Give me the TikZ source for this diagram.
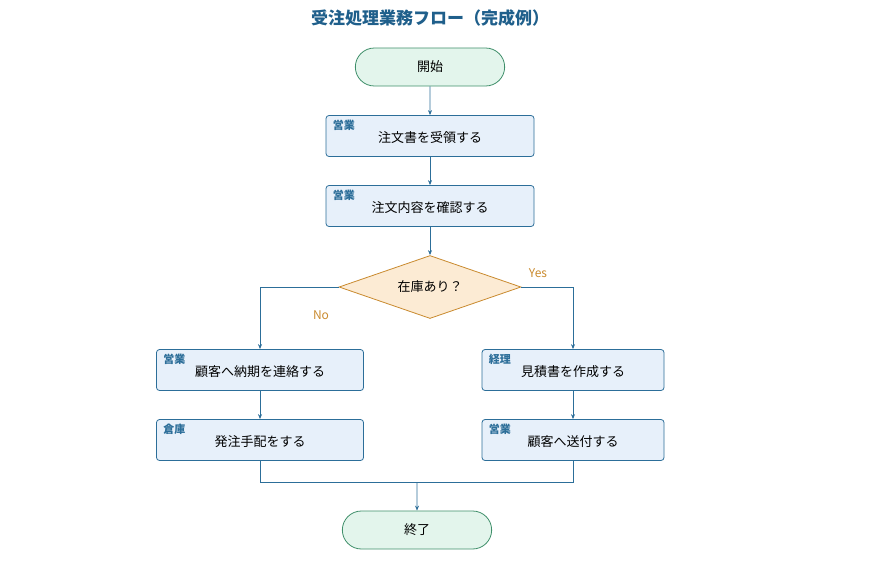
\documentclass[tikz,border=0pt]{standalone}
\usepackage{fontspec}
\setmainfont{Noto Sans CJK JP}
\usetikzlibrary{arrows.meta,shapes.geometric,shapes.misc,positioning}
\definecolor{lineblue}{HTML}{2C6E99}
\definecolor{boxfill}{HTML}{E7F0FA}
\definecolor{termfill}{HTML}{E3F5EC}
\definecolor{termdraw}{HTML}{3F8F6A}
\definecolor{decfill}{HTML}{FCEBD4}
\definecolor{decdraw}{HTML}{C98A2E}
\definecolor{titleblue}{HTML}{1F5F8B}
\definecolor{tagblue}{HTML}{2C6E99}
\newcommand{\bodyfont}{\fontsize{13}{15}\selectfont}
\tikzset{>={Stealth[length=5pt,width=4pt]},
	term/.style={rounded rectangle,draw=termdraw,fill=termfill,line width=0.8pt,minimum width=156pt,minimum height=38pt,font=\bodyfont},
	proc/.style={rectangle,rounded corners=3pt,draw=lineblue,fill=boxfill,line width=0.8pt,minimum height=41pt},
	dec/.style={diamond,aspect=2.9,draw=decdraw,fill=decfill,line width=0.8pt,inner sep=0pt,minimum width=182pt,minimum height=63pt,font=\bodyfont},
	txt/.style={font=\bodyfont},
	tag/.style={font=\fontsize{11}{13}\selectfont\bfseries,text=tagblue,anchor=north west,inner sep=0pt},
	flow/.style={draw=lineblue,line width=0.6pt},
	yn/.style={font=\fontsize{12}{14}\selectfont,text=decdraw}}
\begin{document}
\begin{tikzpicture}[x=1pt,y=-1pt]
		\useasboundingbox (0,0) rectangle (886,560);
		\node (title) at (430,18) {\fontsize{17}{20}\selectfont\bfseries\color{titleblue}受注処理業務フロー（完成例）};
		\node (start) at (430,67) [term] {開始};
		\node (recv) at (430,136) [proc,minimum width=208pt] {};
		\node (chk) at (430,206) [proc,minimum width=208pt] {};
		\node (stock) at (430,287) [dec] {在庫あり？};
		\node (notify) at (260,370) [proc,minimum width=207pt] {};
		\node (order) at (260,440) [proc,minimum width=207pt] {};
		\node (quote) at (573,370) [proc,minimum width=182pt] {};
		\node (send) at (573,440) [proc,minimum width=182pt] {};
		\node (end) at (417,530) [term] {終了};
		% texts of the boxes
		\node at ([yshift=-2pt]recv.center) [txt] {注文書を受領する};
		\node at ([yshift=-2pt]chk.center) [txt] {注文内容を確認する};
		\node at ([yshift=-2pt]notify.center) [txt] {顧客へ納期を連絡する};
		\node at ([yshift=-2pt]order.center) [txt] {発注手配をする};
		\node at ([yshift=-2pt]quote.center) [txt] {見積書を作成する};
		\node at ([yshift=-2pt]send.center) [txt] {顧客へ送付する};
		% lane tags
		\node at ([xshift=7pt,yshift=-5pt]recv.north west) [tag] {営業};
		\node at ([xshift=7pt,yshift=-5pt]chk.north west) [tag] {営業};
		\node at ([xshift=7pt,yshift=-5pt]notify.north west) [tag] {営業};
		\node at ([xshift=7pt,yshift=-5pt]order.north west) [tag] {倉庫};
		\node at ([xshift=7pt,yshift=-5pt]quote.north west) [tag] {経理};
		\node at ([xshift=7pt,yshift=-5pt]send.north west) [tag] {営業};
		\coordinate (merge) at (417,482);
		\draw [flow,->] (start) -- (recv);
		\draw [flow,->] (recv) -- (chk);
		\draw [flow,->] (chk) -- (stock);
		\draw [flow,->] (stock.west) -| (notify.north);
		\draw [flow,->] (stock.east) -| (quote.north);
		\node at (538,273) [yn] {Yes};
		\node at (321,315) [yn] {No};
		\draw [flow,->] (notify) -- (order);
		\draw [flow,->] (quote) -- (send);
		\draw [flow] (order.south) |- (merge);
		\draw [flow] (send.south) |- (merge);
		\draw [flow,->] (merge) -- (end);
\end{tikzpicture}
\end{document}
